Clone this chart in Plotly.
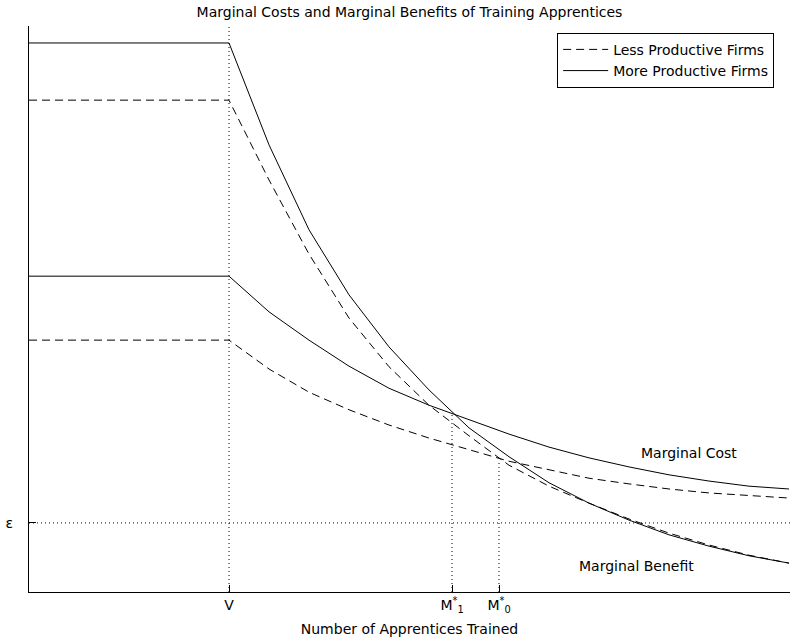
import plotly.graph_objects as go

# x positions (number of apprentices) and curve values
x_pts = [0, 5, 6, 7, 8, 9, 10, 11, 12, 13, 14, 15, 16, 17, 18, 19]

mb_more = [97.0, 97.0, 79.0, 64.0, 52.5, 43.3, 35.7, 29.0, 23.9, 19.3, 15.7, 12.7, 10.1, 8.1, 6.4, 5.1]
mb_less = [86.9, 86.9, 72.8, 59.7, 48.4, 39.8, 33.0, 27.6, 22.4, 18.7, 15.7, 12.9, 10.4, 8.3, 6.5, 5.1]
mc_more = [55.8, 55.8, 49.5, 44.5, 39.9, 36.0, 33.0, 30.4, 27.9, 25.6, 23.7, 22.1, 20.7, 19.6, 18.7, 18.2]
mc_less = [44.5, 44.5, 39.4, 35.3, 32.2, 29.5, 27.2, 25.1, 23.1, 21.6, 20.1, 19.1, 18.2, 17.5, 17.0, 16.6]

V = 5.0
M1 = 10.575
M0 = 11.75
M1_level = 31.6
M0_level = 23.3
eps = 12.2

x_tick_vals = [V, M1, M0]
x_tick_text = ["V", "M<sup>*</sup><sub>1</sub>", "M<sup>*</sup><sub>0</sub>"]
y_tick_vals = [eps]
y_tick_text = ["ε"]

X_MAX = 19.025
Y_MAX = 100

FONT = "DejaVu Sans, Liberation Sans, Arial, sans-serif"
FS = 14
DASH = "8px,5px"
DOT = "1px,3px"

fig = go.Figure()

# legend entries first (dashed, then solid)
fig.add_trace(go.Scatter(x=x_pts, y=mb_less, mode="lines", name="Less Productive Firms",
                         line=dict(color="black", width=1, dash=DASH)))
fig.add_trace(go.Scatter(x=x_pts, y=mb_more, mode="lines", name="More Productive Firms",
                         line=dict(color="black", width=1)))
fig.add_trace(go.Scatter(x=x_pts, y=mc_less, mode="lines", showlegend=False,
                         line=dict(color="black", width=1, dash=DASH)))
fig.add_trace(go.Scatter(x=x_pts, y=mc_more, mode="lines", showlegend=False,
                         line=dict(color="black", width=1)))

# dotted guide lines
dot_line = dict(color="black", width=1, dash=DOT)
fig.add_trace(go.Scatter(x=[V, V], y=[0, Y_MAX], mode="lines", showlegend=False, line=dot_line))
fig.add_trace(go.Scatter(x=[M1, M1], y=[0, M1_level], mode="lines", showlegend=False, line=dot_line))
fig.add_trace(go.Scatter(x=[M0, M0], y=[0, M0_level], mode="lines", showlegend=False, line=dot_line))
fig.add_trace(go.Scatter(x=[0, X_MAX], y=[eps, eps], mode="lines", showlegend=False, line=dot_line))

fig.add_annotation(x=16.5, y=24.6, text="Marginal Cost", showarrow=False,
                   font=dict(size=FS, color="black", family=FONT))
fig.add_annotation(x=15.175, y=4.6, text="Marginal Benefit", showarrow=False,
                   font=dict(size=FS, color="black", family=FONT))

fig.update_layout(
    width=790, height=640,
    margin=dict(l=29, r=0, t=26, b=48),
    paper_bgcolor="white", plot_bgcolor="white",
    font=dict(family=FONT, size=FS, color="black"),
    title=dict(text="Marginal Costs and Marginal Benefits of Training Apprentices",
               x=(29 + 790) / 2 / 790, xanchor="center",
               y=1 - 12 / 640, yanchor="middle", yref="container",
               font=dict(size=FS, family=FONT, color="black")),
    showlegend=True,
    legend=dict(x=0.694, y=0.988, xanchor="left", yanchor="top",
                bordercolor="black", borderwidth=1, bgcolor="white",
                font=dict(size=FS, family=FONT, color="black"),
                itemwidth=45, tracegroupgap=0),
    xaxis=dict(range=[0, X_MAX], showgrid=False, zeroline=False,
               showline=True, linecolor="black", linewidth=1,
               tickmode="array", tickvals=x_tick_vals, ticktext=x_tick_text,
               ticks="inside", ticklen=7, tickcolor="black",
               title=dict(text="Number of Apprentices Trained", standoff=10,
                          font=dict(size=FS, family=FONT))),
    yaxis=dict(range=[0, Y_MAX], showgrid=False, zeroline=False,
               showline=True, linecolor="black", linewidth=1,
               tickmode="array", tickvals=y_tick_vals, ticktext=y_tick_text,
               ticks="inside", ticklen=7, tickcolor="black",
               ticklabelstandoff=12),
)

fig.write_html("out.html")
